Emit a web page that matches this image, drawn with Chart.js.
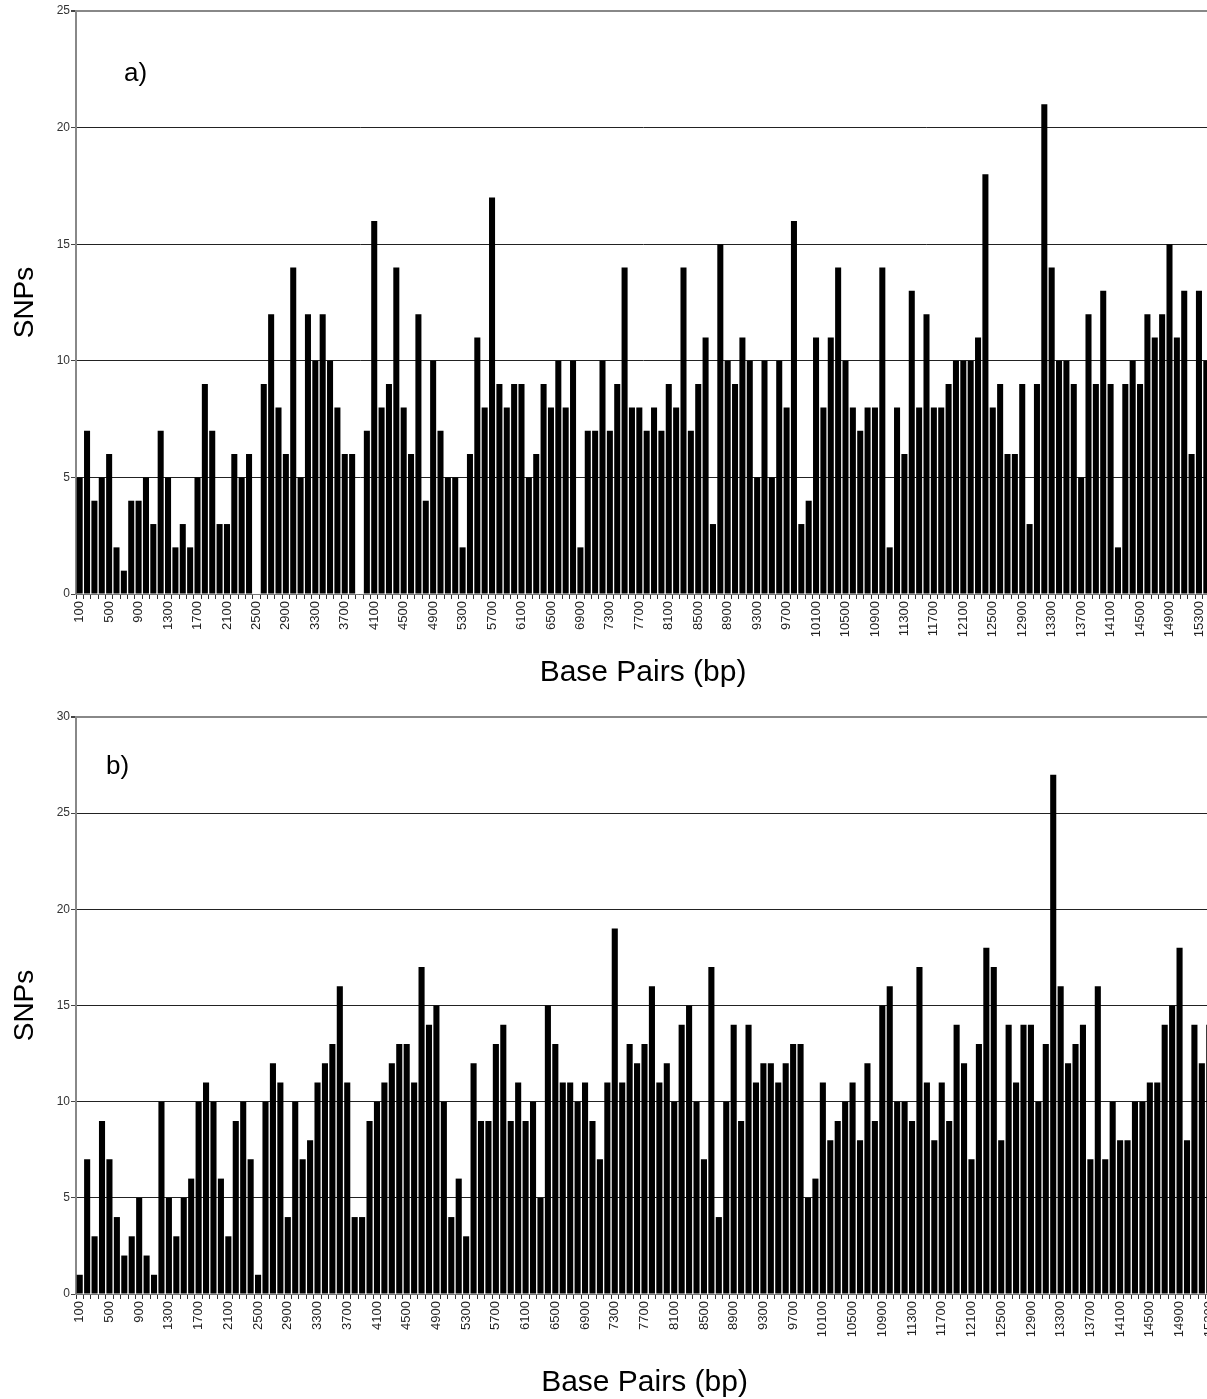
<!DOCTYPE html>
<html>
<head>
<meta charset="utf-8">
<title>SNPs per 100 bp</title>
<script src="https://cdn.jsdelivr.net/npm/chart.js@4.4.1/dist/chart.umd.min.js"></script>
<style>
    html, body { margin: 0; padding: 0; background: #fff; overflow: hidden; }
    canvas { display: block; }
</style>
</head>
<body>
<canvas id="chartA" width="1210" height="700"></canvas>
<canvas id="chartB" width="1213" height="699"></canvas>

<script>
// Bins of 100 bp; only every 4th label is printed (100, 500, 900, ...)
const basePairsA = Array.from({ length: 154 }, (_, i) => (i + 1) * 100);
const basePairsB = Array.from({ length: 153 }, (_, i) => (i + 1) * 100);

// Panel a) SNP counts per bin
const snpsA = [
    5, 7, 4, 5, 6, 2, 1, 4, 4, 5, 3, 7, 5, 2, 3, 2, 5, 9, 7, 3,
    3, 6, 5, 6, 0, 9, 12, 8, 6, 14, 5, 12, 10, 12, 10, 8, 6, 6, 0, 7,
    16, 8, 9, 14, 8, 6, 12, 4, 10, 7, 5, 5, 2, 6, 11, 8, 17, 9, 8, 9,
    9, 5, 6, 9, 8, 10, 8, 10, 2, 7, 7, 10, 7, 9, 14, 8, 8, 7, 8, 7,
    9, 8, 14, 7, 9, 11, 3, 15, 10, 9, 11, 10, 5, 10, 5, 10, 8, 16, 3, 4,
    11, 8, 11, 14, 10, 8, 7, 8, 8, 14, 2, 8, 6, 13, 8, 12, 8, 8, 9, 10,
    10, 10, 11, 18, 8, 9, 6, 6, 9, 3, 9, 21, 14, 10, 10, 9, 5, 12, 9, 13,
    9, 2, 9, 10, 9, 12, 11, 12, 15, 11, 13, 6, 13, 10
];

// Panel b) SNP counts per bin
const snpsB = [
    1, 7, 3, 9, 7, 4, 2, 3, 5, 2, 1, 10, 5, 3, 5, 6, 10, 11, 10, 6,
    3, 9, 10, 7, 1, 10, 12, 11, 4, 10, 7, 8, 11, 12, 13, 16, 11, 4, 4, 9,
    10, 11, 12, 13, 13, 11, 17, 14, 15, 10, 4, 6, 3, 12, 9, 9, 13, 14, 9, 11,
    9, 10, 5, 15, 13, 11, 11, 10, 11, 9, 7, 11, 19, 11, 13, 12, 13, 16, 11, 12,
    10, 14, 15, 10, 7, 17, 4, 10, 14, 9, 14, 11, 12, 12, 11, 12, 13, 13, 5, 6,
    11, 8, 9, 10, 11, 8, 12, 9, 15, 16, 10, 10, 9, 17, 11, 8, 11, 9, 14, 12,
    7, 13, 18, 17, 8, 14, 11, 14, 14, 10, 13, 27, 16, 12, 13, 14, 7, 16, 7, 10,
    8, 8, 10, 10, 11, 11, 14, 15, 18, 8, 14, 12, 14
];

const yMaxA = 25;
const yMaxB = 30;

const FONT = '"Liberation Sans", Arial, sans-serif';

// Draws the panel letter in the top left of the plot
const panelLabel = {
    id: 'panelLabel',
    afterDraw(chart, args, opts) {
        const ctx = chart.ctx;
        ctx.save();
        ctx.font = `26px ${FONT}`;
        ctx.fillStyle = '#000';
        ctx.textBaseline = 'middle';
        ctx.textAlign = 'left';
        ctx.fillText(opts.text, opts.x, opts.y);
        ctx.restore();
    }
};

function buildChart(canvasId, labels, values, yMax, cfg) {
    return new Chart(document.getElementById(canvasId), {
        type: 'bar',
        data: {
            labels: labels,
            datasets: [{
                data: values,
                backgroundColor: '#000',
                borderWidth: 0,
                barPercentage: 0.82,
                categoryPercentage: 1.0
            }]
        },
        options: {
            responsive: false,
            animation: false,
            devicePixelRatio: 1,
            layout: { padding: { top: cfg.top, left: 0, right: 0, bottom: 0 } },
            plugins: {
                legend: { display: false },
                tooltip: { enabled: false },
                panelLabel: cfg.panel
            },
            scales: {
                x: {
                    offset: true,
                    border: { display: true, color: '#777', width: 1 },
                    grid: {
                        display: true,
                        drawOnChartArea: false,
                        drawTicks: true,
                        tickLength: 5,
                        color: '#333',
                        offset: true
                    },
                    ticks: {
                        autoSkip: false,
                        maxRotation: 90,
                        minRotation: 90,
                        padding: 2,
                        color: '#222',
                        font: { family: FONT, size: 13 },
                        callback: function (val, index) {
                            return index % 4 === 0 ? this.getLabelForValue(val) : '';
                        }
                    },
                    title: {
                        display: true,
                        text: 'Base Pairs (bp)',
                        color: '#000',
                        font: { family: FONT, size: 30, lineHeight: 1 },
                        padding: { top: 0, bottom: cfg.xTitlePad }
                    },
                    afterFit(scale) {
                        scale.height = cfg.xHeight;
                        scale.paddingLeft = 0;
                        scale.paddingRight = 0;
                    }
                },
                y: {
                    min: 0,
                    max: yMax,
                    border: { display: true, color: '#888', width: 2 },
                    grid: {
                        color: ctx => ctx.tick && ctx.tick.value === yMax ? '#888' : '#222',
                        lineWidth: ctx => ctx.tick && ctx.tick.value === yMax ? 2 : 1,
                        tickLength: 5,
                        tickColor: '#444'
                    },
                    ticks: {
                        stepSize: 5,
                        padding: 1,
                        color: '#333',
                        font: { family: FONT, size: 12 }
                    },
                    title: {
                        display: true,
                        text: 'SNPs',
                        color: '#000',
                        font: { family: FONT, size: 28, lineHeight: 1 },
                        padding: { top: 11, bottom: 0 }
                    },
                    afterFit(scale) {
                        scale.width = 76;
                        scale.paddingTop = 0;
                        scale.paddingBottom = 0;
                    }
                }
            }
        },
        plugins: [panelLabel]
    });
}

buildChart('chartA', basePairsA, snpsA, yMaxA, {
    top: 11,
    xHeight: 106,
    xTitlePad: 12,
    panel: { text: 'a)', x: 124, y: 74 }
});

buildChart('chartB', basePairsB, snpsB, yMaxB, {
    top: 17,
    xHeight: 105,
    xTitlePad: 1,
    panel: { text: 'b)', x: 106, y: 67 }
});
</script>
</body>
</html>
